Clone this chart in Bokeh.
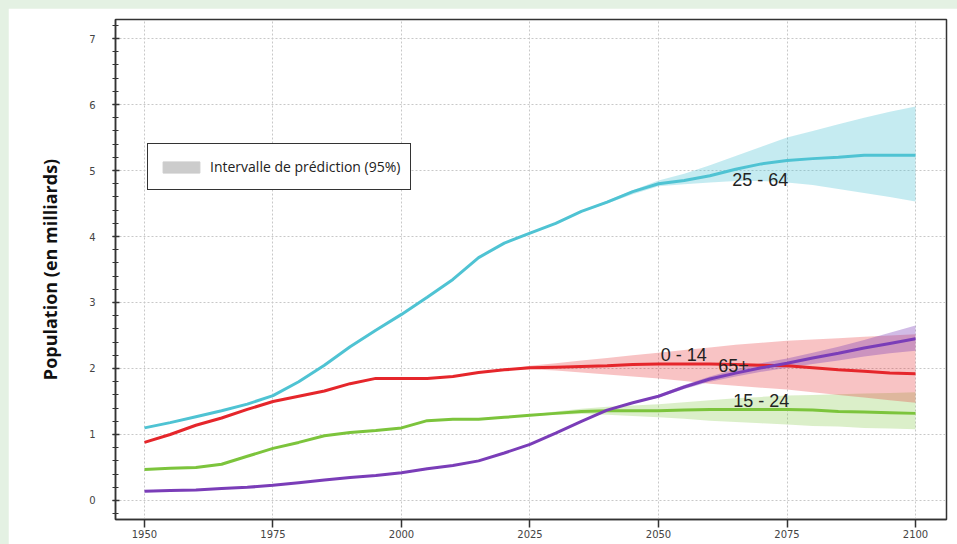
from bokeh.plotting import figure
from bokeh.models import (ColumnDataSource, Range1d, FixedTicker, Legend, LegendItem)
from bokeh.embed import file_html
from bokeh.resources import INLINE
from bokeh.core.properties import value

# ---------------- data (billions) ----------------
years = list(range(1950, 2101, 5))

pop_25_64 = [1.10, 1.18, 1.27, 1.36, 1.46, 1.59, 1.80, 2.05, 2.33, 2.58, 2.82,
             3.08, 3.35, 3.68, 3.90, 4.05, 4.20, 4.38, 4.52, 4.68, 4.80, 4.85,
             4.92, 5.02, 5.10, 5.15, 5.18, 5.20, 5.23, 5.23, 5.23]
pop_0_14 = [0.88, 1.00, 1.14, 1.25, 1.38, 1.50, 1.58, 1.66, 1.77, 1.85, 1.85,
            1.85, 1.88, 1.94, 1.98, 2.01, 2.02, 2.03, 2.04, 2.06, 2.07, 2.07,
            2.07, 2.06, 2.05, 2.04, 2.01, 1.98, 1.96, 1.93, 1.92]
pop_15_24 = [0.47, 0.49, 0.50, 0.55, 0.67, 0.79, 0.88, 0.98, 1.03, 1.06, 1.10,
             1.21, 1.23, 1.23, 1.26, 1.29, 1.32, 1.35, 1.36, 1.36, 1.36, 1.37,
             1.38, 1.38, 1.38, 1.38, 1.37, 1.35, 1.34, 1.33, 1.32]
pop_65 = [0.14, 0.15, 0.16, 0.18, 0.20, 0.23, 0.27, 0.31, 0.35, 0.38, 0.42,
          0.48, 0.53, 0.60, 0.72, 0.85, 1.02, 1.20, 1.37, 1.48, 1.58, 1.72,
          1.84, 1.93, 2.01, 2.08, 2.16, 2.23, 2.31, 2.38, 2.45]

band_years = list(range(2020, 2101, 5))
lo_25_64 = [3.90, 4.05, 4.20, 4.37, 4.50, 4.64, 4.76, 4.79, 4.82, 4.84, 4.84,
            4.82, 4.78, 4.72, 4.66, 4.60, 4.53]
hi_25_64 = [3.90, 4.05, 4.20, 4.39, 4.54, 4.70, 4.85, 4.95, 5.08, 5.22, 5.36,
            5.50, 5.60, 5.70, 5.80, 5.89, 5.97]
lo_0_14 = [1.98, 1.99, 1.97, 1.94, 1.91, 1.88, 1.85, 1.81, 1.77, 1.74, 1.71,
           1.68, 1.64, 1.60, 1.56, 1.52, 1.48]
hi_0_14 = [1.98, 2.04, 2.08, 2.12, 2.16, 2.20, 2.24, 2.28, 2.32, 2.36, 2.39,
           2.42, 2.44, 2.46, 2.48, 2.50, 2.52]
lo_15_24 = [1.26, 1.28, 1.30, 1.31, 1.30, 1.28, 1.26, 1.24, 1.21, 1.19, 1.17,
            1.15, 1.13, 1.12, 1.10, 1.09, 1.08]
hi_15_24 = [1.26, 1.30, 1.35, 1.39, 1.42, 1.44, 1.46, 1.49, 1.52, 1.55, 1.57,
            1.59, 1.60, 1.61, 1.62, 1.63, 1.64]
lo_65 = [0.72, 0.85, 1.02, 1.20, 1.37, 1.47, 1.56, 1.69, 1.80, 1.88, 1.95,
         2.01, 2.07, 2.12, 2.18, 2.23, 2.27]
hi_65 = [0.72, 0.85, 1.02, 1.20, 1.37, 1.49, 1.60, 1.75, 1.88, 1.99, 2.08,
         2.15, 2.24, 2.33, 2.43, 2.54, 2.65]

x_ticks = [1950, 1975, 2000, 2025, 2050, 2075, 2100]
y_ticks = [0, 1, 2, 3, 4, 5, 6, 7]

label_texts = ["25 - 64", "0 - 14", "65+", "15 - 24"]
label_x = [2069.8, 2054.9, 2064.6, 2070.0]
label_y = [4.86, 2.21, 2.05, 1.50]

legend_label = "Intervalle de prédiction (95%)"
y_title = "Population (en milliards)"

# ---------------- figure ----------------
p = figure(width=949, height=536, output_backend="svg", toolbar_location=None,
           x_range=Range1d(1944.36, 2106.03), y_range=Range1d(-0.288, 7.288),
           min_border_left=107, min_border_right=11, min_border_top=11,
           min_border_bottom=25)
p.background_fill_color = "white"
p.border_fill_color = "white"
p.outline_line_color = "#333333"
p.outline_line_width = 1.5

src = ColumnDataSource(dict(year=years, a=pop_25_64, b=pop_0_14, c=pop_15_24, d=pop_65))
bsrc = ColumnDataSource(dict(year=band_years, la=lo_25_64, ha=hi_25_64,
                             lb=lo_0_14, hb=hi_0_14, lc=lo_15_24, hc=hi_15_24,
                             ld=lo_65, hd=hi_65))

c_cyan = "#4fc3d3"
c_red = "#e5262b"
c_green = "#7cc43c"
c_purple = "#7a3db8"

p.varea(x="year", y1="la", y2="ha", source=bsrc, fill_color=c_cyan, fill_alpha=0.33)
p.varea(x="year", y1="lc", y2="hc", source=bsrc, fill_color=c_green, fill_alpha=0.28)
p.varea(x="year", y1="lb", y2="hb", source=bsrc, fill_color=c_red, fill_alpha=0.28)
p.varea(x="year", y1="ld", y2="hd", source=bsrc, fill_color=c_purple, fill_alpha=0.35)

p.line("year", "a", source=src, line_color=c_cyan, line_width=3)
p.line("year", "c", source=src, line_color=c_green, line_width=3)
p.line("year", "b", source=src, line_color=c_red, line_width=3)
p.line("year", "d", source=src, line_color=c_purple, line_width=3)

lsrc = ColumnDataSource(dict(x=label_x, y=label_y, t=label_texts))
p.text(x="x", y="y", text="t", source=lsrc, text_font=value("Liberation Sans"),
       text_font_size="18px", text_color="#222222", text_align="center",
       text_baseline="middle")

# legend with grey swatch (renderer holds one undrawable NaN entry so that
# only its legend swatch is shown)
nan = float("nan")
dummy = p.quad(left=[nan], right=[nan], top=[nan], bottom=[nan],
               fill_color="#cccccc", line_color="#cccccc")
leg = Legend(items=[LegendItem(label=legend_label, renderers=[dummy], index=0)],
             location=(32, 329), orientation="vertical")
leg.border_line_color = "#333333"
leg.border_line_alpha = 1
leg.border_line_width = 1.5
leg.background_fill_color = "white"
leg.background_fill_alpha = 1
leg.glyph_width = 46
leg.glyph_height = 14
leg.label_height = 25
leg.label_standoff = 6
leg.padding = 10
leg.margin = 0
leg.spacing = 0
leg.label_text_font = "Open Sans"
leg.label_text_font_size = "14px"
leg.label_text_color = "#222222"
p.add_layout(leg, "center")

# axes
p.xaxis.ticker = FixedTicker(ticks=x_ticks)
p.yaxis.ticker = FixedTicker(ticks=y_ticks,
                             minor_ticks=[i / 5 for i in range(-1, 37)])
for ax in (p.xaxis[0], p.yaxis[0]):
    ax.axis_line_color = "#333333"
    ax.axis_line_width = 1.5
    ax.major_tick_line_color = "#333333"
    ax.major_tick_line_width = 1.5
    ax.major_label_text_color = "#444444"
    ax.major_label_text_font = "DejaVu Sans"
    ax.major_label_text_font_size = "10px"

p.xaxis.major_tick_out = 8
p.xaxis.major_tick_in = 0
p.xaxis.minor_tick_line_color = None
p.xaxis.major_label_standoff = 2

p.yaxis.major_tick_out = 3
p.yaxis.major_tick_in = 4
p.yaxis.minor_tick_out = 3
p.yaxis.minor_tick_in = 3
p.yaxis.minor_tick_line_color = "#333333"
p.yaxis.minor_tick_line_width = 1.2
p.yaxis.major_label_standoff = 17
p.yaxis.axis_label = y_title
p.yaxis.axis_label_text_font = "Open Sans"
p.yaxis.axis_label_text_font_style = "bold"
p.yaxis.axis_label_text_font_size = "18px"
p.yaxis.axis_label_text_color = "#111111"
p.yaxis.axis_label_standoff = 24

p.grid.grid_line_color = "#c8c8c8"
p.grid.grid_line_dash = "2 2"
p.grid.grid_line_width = 1

html = file_html(p, INLINE)
html = html.replace(
    "</head>",
    "<style>html, body {background-color:#e4f1e3;} "
    "body {padding:8px 0 0 8px !important;}</style></head>", 1)
open("out.html", "w").write(html)
